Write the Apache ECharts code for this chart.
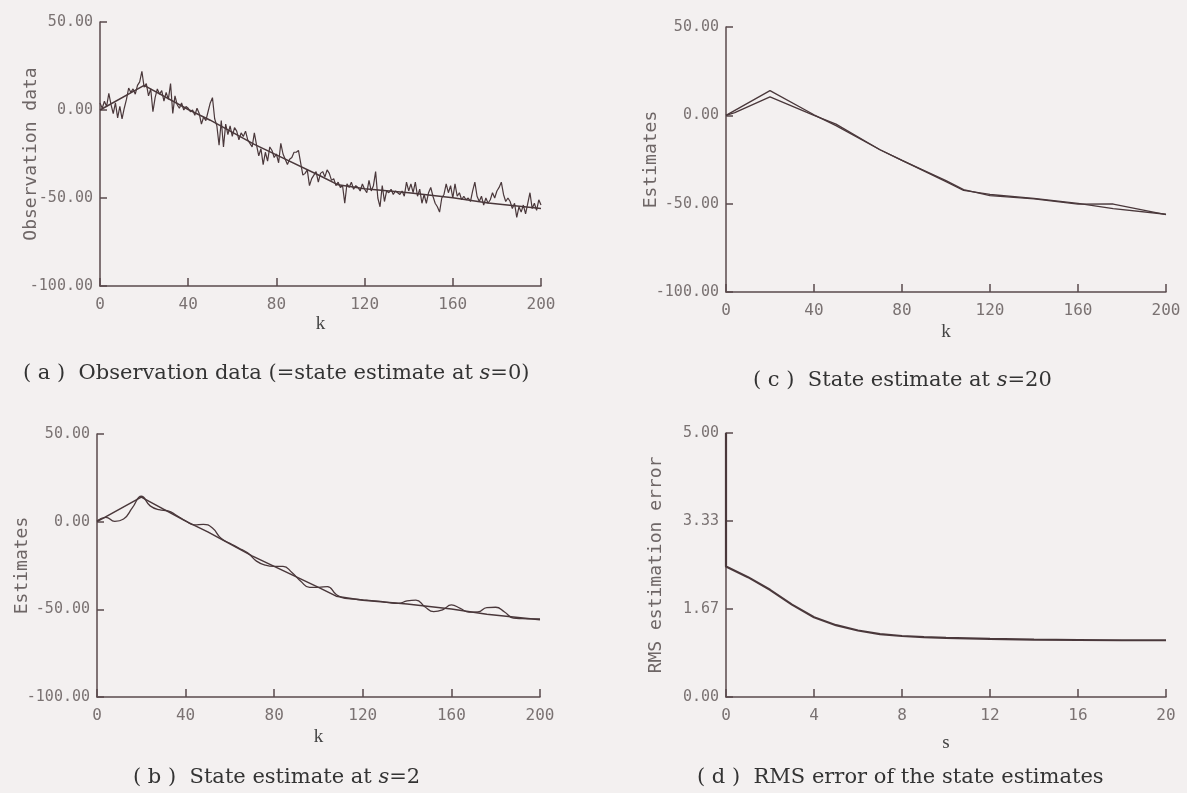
<!DOCTYPE html>
<html><head><meta charset="utf-8">
<script src="https://cdn.jsdelivr.net/npm/echarts@6/dist/echarts.min.js"></script>
<style>html,body{margin:0;padding:0;background:#f3f0f0}#c{width:1187px;height:793px}</style>
</head><body><div id="c"></div>
<script>
// ---- data ----
// observation data y(k), k = 0..200
const observation = [
  4, 1, 5, 2, 9.5, 3, -2, 4, -4.5, 2,
  -5, 1, 6, 12.5, 10, 12, 9, 14, 16, 22,
  13, 15, 8, 12, -1, 7, 12, 9, 11, 5,
  10, 6, 15, -2, 8, 3, 1, 4, 0, 2,
  1, -1, 0, -3, 1, -2, -8, -4, -6, -1,
  4, 7, -5, -9, -20, -6, -21, -8, -14, -9,
  -15, -10, -12, -17, -13, -15, -12, -17, -19, -21,
  -13, -20, -26, -22, -31, -24, -29, -21, -23, -27,
  -25, -30, -19, -25, -28, -31, -28, -27, -24, -24,
  -23, -30, -37, -36, -34, -43, -39, -37, -35, -41,
  -36, -35, -38, -34, -36, -40, -39, -43, -41, -44,
  -43, -53, -42, -44, -41, -45, -43, -44, -46, -42,
  -45, -47, -40, -46, -43, -35, -50, -55, -43, -52,
  -46, -47, -45, -48, -46, -47, -48, -46, -49, -41,
  -46, -42, -47, -41, -49, -45, -53, -48, -53, -47,
  -44, -49, -53, -55, -58, -50, -48, -42, -47, -43,
  -50, -42, -49, -47, -51, -49, -51, -50, -52, -46,
  -41, -49, -52, -49, -54, -50, -53, -51, -47, -50,
  -46, -44, -41, -48, -52, -50, -52, -56, -53, -61,
  -55, -58, -54, -59, -53, -47, -56, -53, -57, -51,
  -54
];
// true state (piecewise linear)
const trueK   = [0, 20, 40, 50, 70, 80, 100, 108, 120, 140, 160, 176, 200];
const trueVal = [0, 14, 0.3, -5.8, -19.5, -25.5, -37.5, -42.5, -44.8, -47, -49.8, -52.8, -56];
// state estimate at s=2
const est2K   = [0,4,8,12,16,20,24,28,32,36,40,44,48,52,56,60,64,68,72,76,80,84,88,92,96,100,
                 104,108,112,116,120,124,128,132,136,140,144,148,152,156,160,164,168,172,176,180,184,188,192,196,200];
const est2Val = [0.5,2.5,0.2,1.5,8,14.5,9,6.8,6.2,3.5,0.5,-1.8,-1.5,-3.5,-9.5,-12.3,-15,-17.8,-22.5,-24.8,-25.5,-25.5,-29,-34,-37.5,-37.5,
                 -37,-41.5,-43.8,-44.2,-44.6,-45,-45.5,-46.2,-46.6,-45.2,-44.7,-48.5,-51.3,-50.3,-47.5,-49.5,-51.6,-51.5,-49,-48.8,-51.5,-55,-55.3,-55.4,-55.5];
// state estimate at s=20
const est20K   = [0, 4, 20, 40, 50, 70, 80, 100, 108, 120, 140, 160, 176, 200];
const est20Val = [0, 1.5, 10.5, 0, -5, -19.5, -25.5, -37, -42, -45.5, -47.3, -50.3, -50.2, -56.2];
// RMS estimation error vs s
const rmsS   = [0, 0, 1, 2, 3, 4, 5, 6, 7, 8, 9, 10, 12, 14, 16, 18, 20];
const rmsVal = [5.0, 2.47, 2.27, 2.03, 1.75, 1.51, 1.36, 1.26, 1.19, 1.155, 1.135, 1.12, 1.1, 1.085, 1.08, 1.075, 1.075];

const captions = [
  '( a )  Observation data (=state estimate at {it|s}=0)',
  '( b )  State estimate at {it|s}=2',
  '( c )  State estimate at {it|s}=20',
  '( d )  RMS error of the state estimates'
];

// ---- styles ----
const INK = '#4a383b';
const AX = '#5a4a4c';
const LBL = '#7a7272';
const mono = 'DejaVu Sans Mono';
const serif = 'DejaVu Serif';

function pairs(xs, ys){ return xs.map((x,i)=>[x, ys[i]]); }

function xAx(gi, max, interval, name, gap){
  return {
    type:'value', gridIndex:gi, min:0, max:max, interval:interval,
    name:name, nameLocation:'middle', nameGap:gap, nameMoveOverlap:false,
    nameTextStyle:{fontFamily:'Liberation Serif', fontSize:19, color:'#444'},
    axisLine:{onZero:false, lineStyle:{color:AX, width:1.5}},
    axisTick:{inside:true, length:8, lineStyle:{color:AX, width:1.5}},
    axisLabel:{margin:11, fontFamily:mono, fontSize:16, color:LBL},
    splitLine:{show:false}
  };
}
function yAx(gi, min, max, interval, name, gap){
  return {
    type:'value', gridIndex:gi, min:min, max:max, interval:interval,
    name:name, nameLocation:'middle', nameGap:gap, nameRotate:90, nameMoveOverlap:false,
    nameTextStyle:{fontFamily:mono, fontSize:18, color:'#6e6666'},
    axisLine:{onZero:false, lineStyle:{color:AX, width:1.5}},
    axisTick:{inside:true, length:7, lineStyle:{color:AX, width:1.5}},
    axisLabel:{margin:7, fontFamily:mono, fontSize:15, color:LBL,
               formatter:(v)=>v.toFixed(2)},
    splitLine:{show:false}
  };
}
function line(xi, data, w, smooth){
  return {type:'line', xAxisIndex:xi, yAxisIndex:xi, data:data, showSymbol:false,
          smooth:smooth||false, clip:false, lineStyle:{color:INK, width:w}, animation:false};
}
function cap(text, left, top){
  return {text:text, left:left, top:top,
    textStyle:{fontFamily:serif, fontSize:21, fontWeight:'normal', color:'#333',
      rich:{it:{fontFamily:serif, fontSize:21, fontStyle:'italic', color:'#333'}}}};
}
function grid(l, t, w, h){
  return {left:l, top:t, width:w, height:h, containLabel:false, outerBoundsMode:'none'};
}

const chart = echarts.init(document.getElementById('c'), null, {renderer:'canvas'});
chart.setOption({
  backgroundColor:'#f3f0f0',
  animation:false,
  title:[cap(captions[0], 18, 358), cap(captions[1], 128, 762), cap(captions[2], 748, 365), cap(captions[3], 692, 762)],
  grid:[
    grid(100, 22, 441, 264),
    grid(97, 434, 443, 263),
    grid(726, 27, 440, 265),
    grid(726, 433, 440, 264)
  ],
  xAxis:[
    xAx(0, 200, 40, 'k', 29),
    xAx(1, 200, 40, 'k', 31),
    xAx(2, 200, 40, 'k', 31),
    xAx(3, 20, 4, 's', 37)
  ],
  yAxis:[
    yAx(0, -100, 50, 50, 'Observation data', 60),
    yAx(1, -100, 50, 50, 'Estimates', 66),
    yAx(2, -100, 50, 50, 'Estimates', 66),
    yAx(3, 0, 5, 5/3, 'RMS estimation error', 61)
  ],
  series:[
    line(0, observation.map((v,i)=>[i,v]), 1.2),
    line(0, pairs(trueK, trueVal), 1.5),
    line(1, pairs(trueK, trueVal), 1.5),
    line(1, pairs(est2K, est2Val), 1.3, 0.5),
    line(2, pairs(trueK, trueVal), 1.3),
    line(2, pairs(est20K, est20Val), 1.3),
    line(3, pairs(rmsS, rmsVal), 2.2)
  ]
});
</script></body></html>
